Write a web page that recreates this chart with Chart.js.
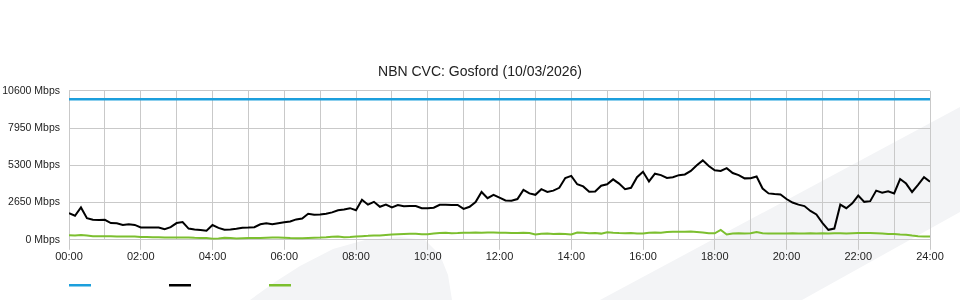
<!DOCTYPE html>
<html>
<head>
<meta charset="utf-8">
<script src="https://cdn.jsdelivr.net/npm/chart.js@4.4.1/dist/chart.umd.min.js"></script>
<style>
  html, body { margin: 0; padding: 0; background: #fff; }
  #wrap { position: relative; width: 960px; height: 300px; overflow: hidden; }
  .mark { position: absolute; left: 0; top: 0; width: 960px; height: 300px; background: #f3f4f6; }
  #band { clip-path: polygon(600px 300px, 960px 107px, 960px 212px, 802px 300px); }
  #arc { clip-path: polygon(250px 300px, 275px 282px, 300px 266px, 333px 249px, 365px 240px, 400px 237px, 425px 240px, 440px 255px, 448px 275px, 452px 300px); }
  canvas { position: relative; }
</style>
</head>
<body>
<div id="wrap">
  <div class="mark" id="band"></div>
  <div class="mark" id="arc"></div>
  <canvas id="chart" width="960" height="300"></canvas>
</div>
<script>
// samples every 10 minutes, 00:00 .. 24:00
const sampleMinutes = 10;
const capacityMbps = 10000;

const downloadMbps = [
  1900, 1710, 2300, 1540, 1430, 1400,
  1420, 1190, 1170, 1050, 1100, 1060,
  880, 880, 880, 880, 760, 900,
  1190, 1260, 800, 735, 700, 650,
  1050, 850, 720, 730, 780, 850,
  870, 900, 1100, 1170, 1110, 1180,
  1250, 1300, 1450, 1520, 1850, 1780,
  1800, 1850, 1950, 2100, 2150, 2250,
  2100, 2850, 2500, 2700, 2350, 2500,
  2300, 2470, 2380, 2400, 2400, 2250,
  2250, 2280, 2490, 2490, 2470, 2480,
  2200, 2350, 2680, 3400, 2960, 3200,
  3000, 2800, 2780, 2900, 3550, 3300,
  3200, 3600, 3400, 3500, 3700, 4400,
  4550, 3950, 3800, 3420, 3430, 3850,
  3950, 4300, 4000, 3600, 3700, 4450,
  4840, 4150, 4700, 4600, 4400, 4450,
  4600, 4650, 4900, 5300, 5650, 5250,
  4950, 4900, 5100, 4750, 4600, 4370,
  4380, 4500, 3650, 3300, 3250, 3220,
  2900, 2650, 2500, 2400, 2050, 1800,
  1200, 710, 800, 2500, 2250, 2600,
  3150, 2700, 2750, 3500, 3350, 3450,
  3300, 4320, 4000, 3400, 3900, 4450,
  4125
];

const uploadMbps = [
  330, 310, 340, 300, 260, 260,
  250, 250, 240, 230, 230, 230,
  200, 200, 190, 180, 170, 160,
  160, 170, 170, 140, 130, 130,
  80, 100, 150, 120, 90, 110,
  120, 120, 130, 150, 170, 160,
  140, 120, 110, 110, 130, 150,
  160, 180, 210, 230, 190, 200,
  230, 260, 280, 310, 300, 340,
  380, 400, 420, 430, 430, 400,
  400, 450, 480, 500, 470, 480,
  510, 500, 520, 510, 520, 520,
  510, 500, 490, 480, 500, 490,
  380, 430, 440, 420, 430, 410,
  380, 520, 500, 460, 480, 440,
  540, 500, 480, 470, 480, 440,
  450, 500, 520, 510, 550, 570,
  580, 570, 590, 560, 520, 470,
  460, 700, 380, 440, 460, 450,
  460, 560, 470, 450, 450, 450,
  450, 460, 450, 450, 470, 450,
  460, 450, 470, 460, 450, 470,
  480, 490, 480, 470, 450, 420,
  410, 380, 360, 300, 250, 240,
  240
];

const yTicks = [0, 2650, 5300, 7950, 10600];
const titleText = 'NBN CVC: Gosford (10/03/2026)';

const toPoints = (values) => values.map((v, i) => ({ x: i * sampleMinutes, y: v }));
const hhmm = (m) => String(Math.floor(m / 60)).padStart(2, '0') + ':00';

const gridColor = '#c9c9c9';
const textColor = '#222';

// little line markers under the chart, no label text
const lineLegend = {
  id: 'lineLegend',
  afterDraw(chart) {
    const { ctx, chartArea } = chart;
    ctx.save();
    chart.data.datasets.forEach((ds, i) => {
      ctx.fillStyle = ds.borderColor;
      ctx.fillRect(chartArea.left + i * 100, 284, 22, 2.5);
    });
    ctx.restore();
  }
};

Chart.defaults.font.family = '"Liberation Sans", Arial, sans-serif';
Chart.defaults.color = textColor;

new Chart(document.getElementById('chart').getContext('2d'), {
  type: 'line',
  data: {
    datasets: [
      {
        data: [{ x: 0, y: capacityMbps }, { x: 1440, y: capacityMbps }],
        borderColor: '#1c9fdc',
        borderWidth: 2.5,
        pointRadius: 0
      },
      {
        data: toPoints(downloadMbps),
        borderColor: '#000000',
        borderWidth: 2,
        pointRadius: 0
      },
      {
        data: toPoints(uploadMbps),
        borderColor: '#7cbf2f',
        borderWidth: 2,
        pointRadius: 0
      }
    ]
  },
  options: {
    responsive: false,
    animation: false,
    layout: { padding: { top: 0, right: 0, bottom: 35, left: 0 } },
    plugins: {
      legend: { display: false },
      tooltip: { enabled: false },
      title: {
        display: true,
        text: titleText,
        color: textColor,
        font: { size: 14, weight: 'normal' },
        padding: { top: 64, bottom: 10 }
      }
    },
    scales: {
      x: {
        type: 'linear',
        min: 0,
        max: 1440,
        border: { display: false },
        afterFit: (axis) => { axis.paddingRight = 30; },
        grid: {
          color: gridColor,
          tickLength: 10,
          tickColor: (c) => (c.tick && c.tick.value % 120 === 0 ? gridColor : 'rgba(0,0,0,0)')
        },
        ticks: {
          stepSize: 60,
          autoSkip: false,
          maxRotation: 0,
          padding: 1,
          font: { size: 11 },
          callback: (v) => (v % 120 === 0 ? hhmm(v) : '')
        }
      },
      y: {
        min: 0,
        max: 10600,
        border: { display: false },
        afterBuildTicks: (axis) => { axis.ticks = yTicks.map((v) => ({ value: v })); },
        afterFit: (axis) => { axis.width = 69; },
        grid: { color: gridColor, drawTicks: false },
        ticks: {
          padding: 9,
          font: { size: 10.5 },
          callback: (v) => v + ' Mbps'
        }
      }
    }
  },
  plugins: [lineLegend]
});
</script>
</body>
</html>
